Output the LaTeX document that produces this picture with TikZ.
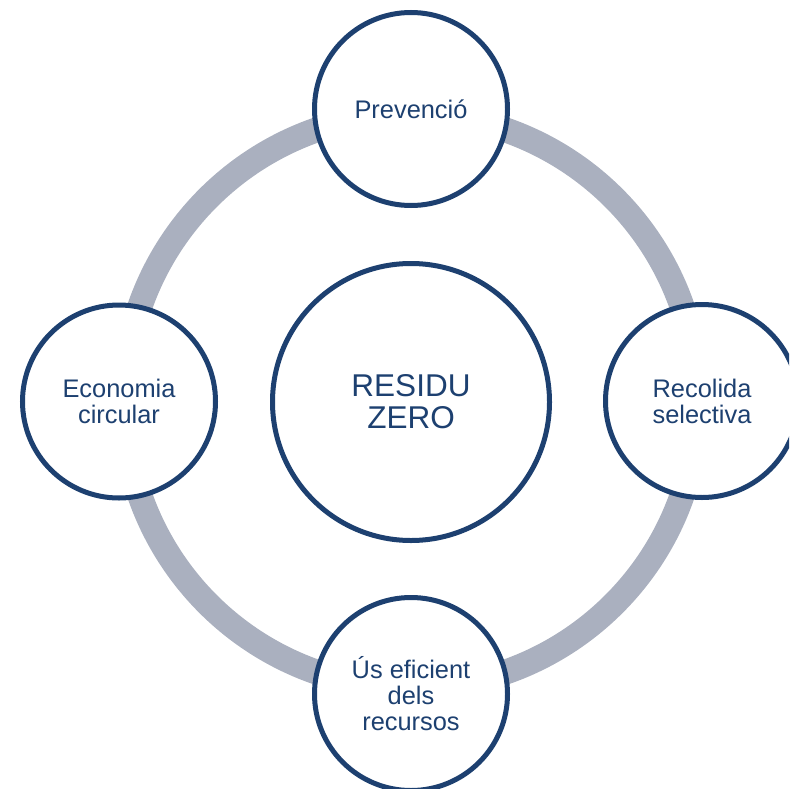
\documentclass[tikz,border=0pt]{standalone}
\usepackage{fontspec}
\setmainfont{Liberation Sans}
\definecolor{navy}{HTML}{1D4070}
\definecolor{ringgray}{HTML}{AAB0BF}
\begin{document}
\begin{tikzpicture}[x=1bp,y=-1bp,
  topic/.style={circle,draw=navy,line width=5bp,fill=white,minimum size=193bp,inner sep=0pt,
    text=navy,align=center,font=\fontsize{25.4bp}{26bp}\selectfont},
  hub/.style={circle,draw=navy,line width=5bp,fill=white,minimum size=277bp,inner sep=0pt,
    text=navy,align=center,font=\fontsize{31.5bp}{32bp}\selectfont}]
\useasboundingbox (0,0) rectangle (789,789);
\clip (0,0) rectangle (789,789);
\coordinate (c) at (411,401);
\draw[ringgray,line width=25bp] (c) circle[radius=287bp];
\node[hub] (hub) at (411,402) {RESIDU\\ZERO};
\node[topic] (top) at (411,109) {Prevenció};
\node[topic] (right) at (702,401) {Recolida\\selectiva};
\node[topic] (bottom) at (411,694) {Ús eficient\\dels\\recursos};
\node[topic] (left) at (119,401.5) {Economia\\circular};
\end{tikzpicture}
\end{document}
